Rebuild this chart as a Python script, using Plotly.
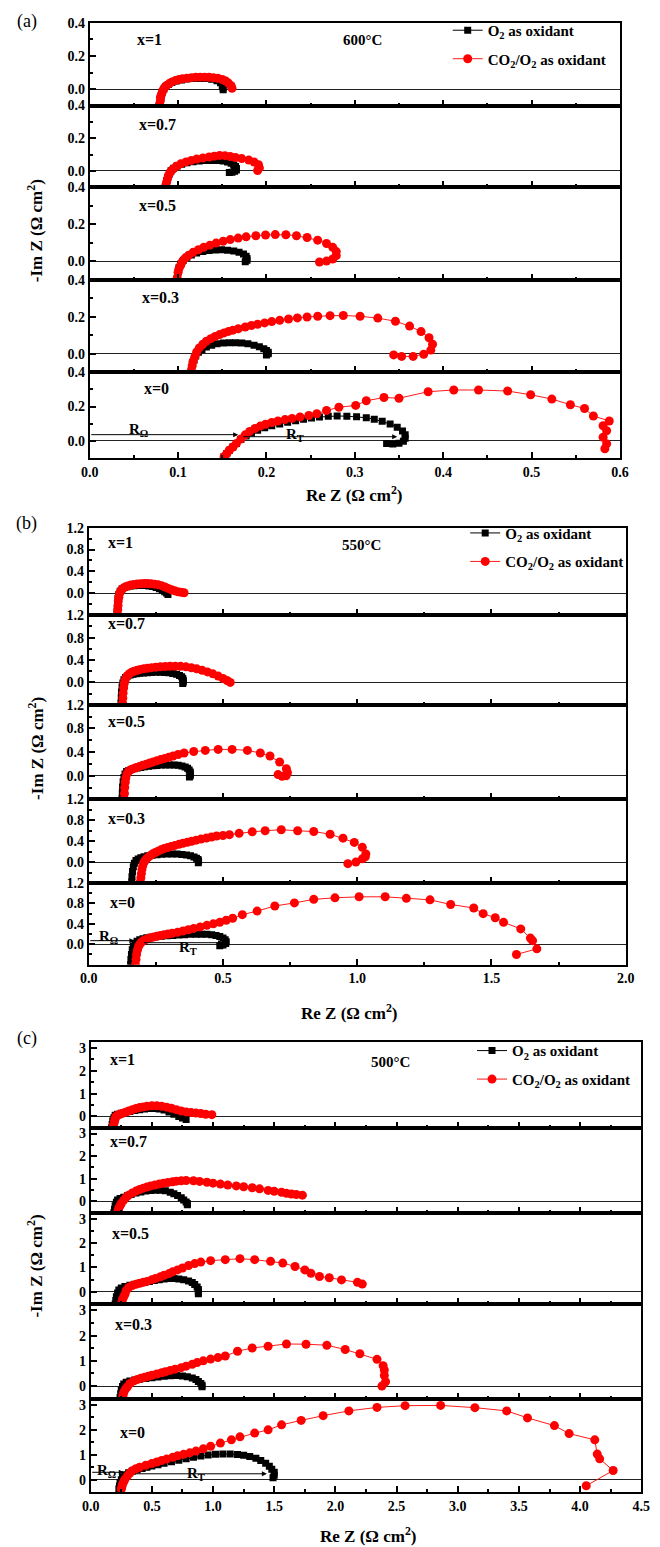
import plotly.graph_objects as go

# ---------------- DATA ----------------
# Panel (a) 600 C
A1_O2_RE = [0.079,0.080,0.081,0.082,0.084,0.086,0.089,0.093,0.098,0.104,0.110,0.117,0.124,0.131,0.138,0.144,0.148,0.150,0.151,0.151]
A1_O2_IM = [-0.09,-0.06,-0.04,-0.02,0.0,0.015,0.028,0.039,0.048,0.055,0.060,0.063,0.064,0.063,0.059,0.050,0.038,0.022,0.008,-0.005]
A1_CO2_RE = [0.079,0.080,0.080,0.081,0.082,0.083,0.085,0.087,0.090,0.093,0.097,0.101,0.105,0.110,0.115,0.120,0.125,0.130,0.135,0.140,0.145,0.150,0.154,0.157,0.160,0.161]
A1_CO2_IM = [-0.09,-0.07,-0.05,-0.035,-0.02,-0.005,0.01,0.022,0.033,0.043,0.051,0.057,0.062,0.066,0.069,0.071,0.072,0.072,0.071,0.069,0.065,0.058,0.048,0.036,0.020,0.005]

A2_O2_RE = [0.086,0.087,0.088,0.090,0.092,0.095,0.099,0.104,0.110,0.117,0.124,0.131,0.138,0.145,0.151,0.156,0.160,0.163,0.165,0.166,0.166,0.164,0.161,0.158]
A2_O2_IM = [-0.09,-0.06,-0.04,-0.02,0.0,0.016,0.029,0.040,0.049,0.056,0.060,0.063,0.064,0.063,0.060,0.054,0.046,0.036,0.026,0.015,0.005,-0.003,-0.008,-0.01]
A2_CO2_RE = [0.086,0.087,0.088,0.089,0.091,0.094,0.098,0.103,0.109,0.115,0.121,0.128,0.135,0.141,0.147,0.153,0.159,0.165,0.172,0.180,0.186,0.191,0.192,0.190]
A2_CO2_IM = [-0.09,-0.07,-0.05,-0.03,-0.01,0.01,0.028,0.043,0.055,0.064,0.072,0.079,0.085,0.090,0.094,0.093,0.088,0.082,0.075,0.066,0.054,0.038,0.018,0.002]

A3_O2_RE = [0.099,0.100,0.101,0.103,0.106,0.110,0.115,0.121,0.128,0.135,0.142,0.149,0.156,0.163,0.169,0.174,0.177,0.178,0.178,0.176]
A3_O2_IM = [-0.09,-0.06,-0.035,-0.015,0.005,0.021,0.034,0.044,0.052,0.058,0.061,0.062,0.060,0.056,0.049,0.039,0.027,0.015,0.005,-0.003]
A3_CO2_RE = [0.099,0.100,0.101,0.103,0.105,0.108,0.112,0.117,0.123,0.129,0.136,0.143,0.151,0.159,0.168,0.177,0.188,0.199,0.210,0.222,0.234,0.246,0.258,0.268,0.275,0.279,0.279,0.275,0.268,0.260]
A3_CO2_IM = [-0.09,-0.06,-0.04,-0.02,0.0,0.017,0.033,0.048,0.062,0.075,0.087,0.098,0.108,0.117,0.125,0.132,0.138,0.142,0.144,0.143,0.138,0.128,0.114,0.096,0.075,0.052,0.030,0.012,0.001,-0.004]

A4_O2_RE = [0.115,0.116,0.118,0.120,0.123,0.127,0.132,0.138,0.144,0.151,0.158,0.165,0.172,0.179,0.186,0.192,0.197,0.200,0.202,0.202,0.200]
A4_O2_IM = [-0.09,-0.06,-0.035,-0.012,0.008,0.024,0.037,0.047,0.054,0.058,0.060,0.060,0.058,0.054,0.047,0.038,0.028,0.018,0.009,0.0,-0.006]
A4_CO2_RE = [0.115,0.116,0.117,0.119,0.121,0.124,0.128,0.132,0.137,0.142,0.147,0.152,0.157,0.162,0.168,0.176,0.183,0.190,0.198,0.206,0.215,0.225,0.235,0.246,0.258,0.272,0.287,0.306,0.326,0.346,0.362,0.375,0.384,0.388,0.386,0.378,0.366,0.353,0.344]
A4_CO2_IM = [-0.09,-0.065,-0.04,-0.015,0.01,0.032,0.052,0.068,0.082,0.094,0.104,0.113,0.121,0.128,0.135,0.145,0.153,0.160,0.167,0.174,0.181,0.188,0.194,0.199,0.203,0.206,0.207,0.203,0.193,0.176,0.150,0.120,0.087,0.052,0.020,-0.002,-0.014,-0.014,-0.006]

A5_O2_RE = [0.152,0.155,0.158,0.162,0.166,0.171,0.177,0.183,0.190,0.198,0.206,0.215,0.224,0.233,0.242,0.251,0.260,0.270,0.280,0.291,0.302,0.313,0.322,0.331,0.340,0.348,0.354,0.357,0.357,0.355,0.350,0.343,0.336]
A5_O2_IM = [-0.093,-0.075,-0.055,-0.036,-0.015,0.008,0.028,0.046,0.062,0.076,0.088,0.099,0.109,0.118,0.126,0.133,0.139,0.143,0.145,0.144,0.141,0.135,0.126,0.114,0.098,0.080,0.058,0.036,0.015,-0.002,-0.014,-0.018,-0.016]
A5_CO2_RE = [0.152,0.155,0.158,0.162,0.166,0.171,0.176,0.181,0.187,0.193,0.199,0.206,0.213,0.221,0.229,0.238,0.248,0.257,0.268,0.282,0.301,0.313,0.333,0.350,0.383,0.412,0.440,0.473,0.499,0.523,0.544,0.560,0.570,0.588,0.581,0.585,0.581,0.585,0.583]
A5_CO2_IM = [-0.093,-0.075,-0.055,-0.036,-0.015,0.011,0.035,0.055,0.072,0.086,0.097,0.107,0.116,0.124,0.131,0.139,0.148,0.158,0.177,0.196,0.207,0.234,0.253,0.249,0.287,0.297,0.297,0.291,0.269,0.244,0.211,0.189,0.145,0.116,0.088,0.059,0.021,-0.017,-0.046]

# Panel (b) 550 C
B1_O2_RE = [0.105,0.106,0.107,0.109,0.112,0.117,0.124,0.133,0.143,0.155,0.168,0.182,0.196,0.210,0.224,0.238,0.251,0.263,0.274,0.283,0.290,0.295]
B1_O2_IM = [-0.38,-0.28,-0.18,-0.09,-0.02,0.04,0.08,0.105,0.122,0.133,0.14,0.144,0.145,0.142,0.135,0.123,0.105,0.082,0.055,0.03,0.005,-0.02]
B1_CO2_RE = [0.107,0.108,0.109,0.110,0.112,0.115,0.120,0.127,0.135,0.145,0.156,0.168,0.180,0.193,0.206,0.219,0.232,0.245,0.258,0.271,0.284,0.296,0.308,0.320,0.332,0.344,0.355]
B1_CO2_IM = [-0.38,-0.3,-0.22,-0.14,-0.07,0.0,0.05,0.09,0.115,0.135,0.15,0.162,0.17,0.176,0.178,0.178,0.175,0.168,0.158,0.14,0.115,0.09,0.065,0.045,0.03,0.02,0.01]

B2_O2_RE = [0.120,0.121,0.122,0.124,0.127,0.131,0.137,0.145,0.154,0.165,0.177,0.190,0.204,0.219,0.234,0.250,0.266,0.282,0.298,0.313,0.327,0.338,0.346,0.350,0.352,0.352,0.350]
B2_O2_IM = [-0.37,-0.27,-0.17,-0.08,-0.01,0.05,0.09,0.115,0.133,0.146,0.156,0.164,0.17,0.175,0.178,0.18,0.18,0.177,0.171,0.161,0.146,0.125,0.1,0.07,0.04,0.01,-0.02]
B2_CO2_RE = [0.126,0.127,0.128,0.130,0.132,0.136,0.142,0.150,0.159,0.169,0.180,0.192,0.205,0.219,0.234,0.250,0.267,0.285,0.303,0.322,0.342,0.362,0.382,0.402,0.422,0.442,0.462,0.482,0.500,0.515,0.527]
B2_CO2_IM = [-0.37,-0.28,-0.19,-0.1,-0.02,0.05,0.11,0.15,0.18,0.2,0.218,0.233,0.245,0.255,0.264,0.272,0.279,0.285,0.289,0.29,0.287,0.278,0.263,0.243,0.218,0.188,0.153,0.113,0.072,0.035,0.0]

B3_O2_RE = [0.124,0.125,0.126,0.128,0.131,0.135,0.141,0.149,0.158,0.169,0.181,0.194,0.208,0.223,0.238,0.254,0.270,0.286,0.302,0.318,0.333,0.347,0.359,0.368,0.374,0.378,0.379,0.378,0.375]
B3_O2_IM = [-0.39,-0.29,-0.19,-0.1,-0.03,0.03,0.07,0.09,0.105,0.118,0.13,0.141,0.151,0.16,0.168,0.175,0.18,0.183,0.184,0.182,0.176,0.165,0.148,0.125,0.097,0.065,0.03,0.0,-0.02]
B3_CO2_RE = [0.132,0.133,0.134,0.136,0.138,0.142,0.148,0.156,0.166,0.177,0.189,0.201,0.214,0.227,0.240,0.254,0.268,0.283,0.298,0.314,0.333,0.355,0.391,0.434,0.482,0.534,0.591,0.639,0.675,0.711,0.736,0.740,0.735,0.720,0.705]
B3_CO2_IM = [-0.39,-0.3,-0.2,-0.11,-0.04,0.03,0.075,0.1,0.12,0.14,0.158,0.177,0.196,0.215,0.234,0.254,0.274,0.294,0.314,0.334,0.36,0.385,0.41,0.429,0.446,0.446,0.429,0.385,0.334,0.232,0.12,0.05,0.0,-0.01,0.02]

B4_O2_RE = [0.160,0.161,0.163,0.166,0.170,0.176,0.184,0.194,0.206,0.220,0.236,0.254,0.272,0.291,0.310,0.329,0.347,0.364,0.379,0.392,0.401,0.407,0.409,0.408]
B4_O2_IM = [-0.38,-0.28,-0.18,-0.09,-0.02,0.03,0.06,0.085,0.105,0.12,0.133,0.143,0.15,0.154,0.155,0.153,0.147,0.137,0.121,0.1,0.075,0.048,0.02,-0.01]
B4_CO2_RE = [0.192,0.194,0.196,0.198,0.201,0.205,0.210,0.216,0.223,0.231,0.239,0.248,0.258,0.269,0.281,0.294,0.307,0.321,0.336,0.351,0.367,0.383,0.400,0.418,0.438,0.457,0.476,0.500,0.524,0.560,0.609,0.657,0.717,0.778,0.838,0.899,0.947,0.989,1.019,1.032,1.030,1.019,0.995,0.965]
B4_CO2_IM = [-0.38,-0.3,-0.22,-0.14,-0.07,-0.01,0.03,0.07,0.1,0.13,0.16,0.185,0.21,0.235,0.26,0.28,0.3,0.32,0.34,0.36,0.38,0.4,0.42,0.44,0.46,0.48,0.5,0.51,0.525,0.55,0.58,0.6,0.62,0.6,0.585,0.534,0.458,0.377,0.283,0.157,0.1,0.063,0.0,-0.03]

B5_O2_RE = [0.156,0.157,0.159,0.162,0.166,0.172,0.180,0.190,0.202,0.216,0.232,0.250,0.270,0.291,0.313,0.335,0.357,0.379,0.400,0.420,0.440,0.458,0.474,0.488,0.500,0.508,0.512,0.510,0.500,0.488]
B5_O2_IM = [-0.4,-0.3,-0.2,-0.11,-0.04,0.02,0.06,0.09,0.11,0.125,0.138,0.148,0.157,0.165,0.172,0.18,0.188,0.195,0.198,0.198,0.194,0.185,0.17,0.15,0.122,0.09,0.05,0.015,-0.015,-0.03]
B5_CO2_RE = [0.174,0.176,0.178,0.181,0.185,0.190,0.196,0.203,0.211,0.220,0.230,0.241,0.253,0.266,0.280,0.295,0.311,0.331,0.351,0.371,0.391,0.415,0.440,0.464,0.488,0.512,0.536,0.572,0.627,0.693,0.766,0.838,0.917,1.007,1.104,1.183,1.271,1.348,1.434,1.469,1.514,1.545,1.609,1.645,1.653,1.669,1.593]
B5_CO2_IM = [-0.4,-0.3,-0.2,-0.12,-0.05,0.0,0.04,0.07,0.09,0.11,0.125,0.14,0.155,0.17,0.185,0.2,0.215,0.235,0.26,0.285,0.31,0.34,0.37,0.40,0.43,0.47,0.51,0.58,0.65,0.75,0.81,0.88,0.91,0.93,0.93,0.90,0.87,0.78,0.71,0.60,0.52,0.43,0.30,0.12,0.07,-0.09,-0.2]

# Panel (c) 500 C
C1_O2_RE = [0.17,0.175,0.18,0.19,0.20,0.22,0.25,0.28,0.32,0.36,0.40,0.44,0.48,0.52,0.56,0.60,0.64,0.68,0.72,0.75,0.78]
C1_O2_IM = [-0.5,-0.35,-0.2,-0.05,0.05,0.1,0.14,0.18,0.22,0.26,0.3,0.33,0.35,0.35,0.33,0.28,0.2,0.1,0.0,-0.07,-0.13]
C1_CO2_RE = [0.18,0.185,0.19,0.195,0.20,0.207,0.22,0.24,0.26,0.285,0.31,0.34,0.37,0.40,0.43,0.46,0.50,0.54,0.58,0.62,0.66,0.70,0.74,0.78,0.82,0.86,0.90,0.94,0.99]
C1_CO2_IM = [-0.5,-0.4,-0.3,-0.2,-0.1,0.0,0.06,0.1,0.14,0.19,0.24,0.3,0.35,0.39,0.42,0.45,0.47,0.47,0.45,0.41,0.36,0.3,0.24,0.2,0.17,0.15,0.13,0.1,0.08]

C2_O2_RE = [0.19,0.195,0.20,0.21,0.22,0.24,0.27,0.30,0.33,0.37,0.41,0.45,0.49,0.53,0.57,0.61,0.65,0.68,0.71,0.74,0.76,0.78,0.79,0.79]
C2_O2_IM = [-0.5,-0.35,-0.2,-0.05,0.05,0.12,0.18,0.24,0.3,0.36,0.41,0.45,0.48,0.49,0.49,0.46,0.4,0.33,0.25,0.15,0.05,-0.03,-0.1,-0.15]
C2_CO2_RE = [0.22,0.225,0.23,0.24,0.25,0.27,0.29,0.31,0.34,0.37,0.40,0.43,0.46,0.49,0.525,0.56,0.595,0.63,0.67,0.70,0.74,0.78,0.84,0.89,0.95,1.00,1.06,1.12,1.19,1.25,1.32,1.38,1.45,1.50,1.56,1.60,1.64,1.68,1.73]
C2_CO2_IM = [-0.5,-0.4,-0.3,-0.2,-0.1,0.05,0.18,0.27,0.37,0.45,0.52,0.58,0.63,0.68,0.72,0.76,0.8,0.83,0.86,0.89,0.91,0.92,0.91,0.88,0.84,0.8,0.76,0.72,0.68,0.64,0.6,0.55,0.48,0.44,0.4,0.35,0.32,0.3,0.27]

C3_O2_RE = [0.20,0.205,0.21,0.22,0.23,0.25,0.28,0.32,0.36,0.40,0.44,0.48,0.52,0.56,0.60,0.64,0.68,0.72,0.76,0.80,0.83,0.85,0.87,0.88,0.88,0.88]
C3_O2_IM = [-0.5,-0.35,-0.2,-0.05,0.08,0.16,0.22,0.27,0.31,0.35,0.39,0.43,0.47,0.5,0.53,0.55,0.55,0.53,0.5,0.45,0.38,0.3,0.2,0.1,0.0,-0.08]
C3_CO2_RE = [0.25,0.255,0.26,0.27,0.28,0.29,0.31,0.34,0.37,0.40,0.43,0.46,0.50,0.53,0.57,0.60,0.64,0.67,0.71,0.75,0.80,0.85,0.90,0.98,1.10,1.22,1.34,1.47,1.57,1.67,1.75,1.80,1.87,1.95,2.05,2.18,2.22]
C3_CO2_IM = [-0.5,-0.4,-0.3,-0.2,-0.1,0.05,0.18,0.26,0.31,0.35,0.39,0.43,0.5,0.55,0.62,0.68,0.75,0.82,0.9,0.98,1.08,1.16,1.22,1.28,1.32,1.36,1.32,1.25,1.18,1.04,0.9,0.76,0.63,0.58,0.49,0.39,0.32]

C4_O2_RE = [0.24,0.245,0.25,0.26,0.27,0.29,0.32,0.36,0.40,0.45,0.50,0.55,0.60,0.65,0.70,0.75,0.79,0.83,0.86,0.88,0.90,0.91,0.91]
C4_O2_IM = [-0.45,-0.3,-0.15,-0.02,0.08,0.15,0.2,0.24,0.27,0.3,0.33,0.36,0.39,0.41,0.42,0.4,0.37,0.32,0.26,0.18,0.1,0.03,-0.03]
C4_CO2_RE = [0.26,0.265,0.27,0.28,0.29,0.30,0.32,0.35,0.38,0.41,0.44,0.47,0.50,0.54,0.58,0.61,0.65,0.69,0.74,0.78,0.83,0.87,0.92,0.98,1.04,1.10,1.20,1.32,1.45,1.60,1.76,1.93,2.08,2.20,2.34,2.39,2.40,2.40,2.41,2.38]
C4_CO2_IM = [-0.45,-0.35,-0.25,-0.15,-0.08,-0.03,0.1,0.2,0.26,0.31,0.35,0.39,0.43,0.48,0.53,0.57,0.62,0.67,0.73,0.79,0.86,0.93,1.0,1.07,1.13,1.19,1.38,1.51,1.58,1.67,1.66,1.62,1.45,1.28,1.06,0.81,0.64,0.42,0.17,0.0]

C5_O2_RE = [0.23,0.235,0.24,0.25,0.26,0.28,0.31,0.34,0.38,0.42,0.46,0.50,0.55,0.60,0.66,0.72,0.78,0.84,0.90,0.96,1.02,1.08,1.14,1.20,1.25,1.30,1.35,1.39,1.43,1.46,1.48,1.50,1.50,1.49]
C5_O2_IM = [-0.37,-0.25,-0.12,0.0,0.1,0.2,0.28,0.34,0.4,0.45,0.5,0.55,0.6,0.66,0.72,0.78,0.84,0.9,0.95,0.99,1.02,1.03,1.03,1.01,0.98,0.93,0.86,0.77,0.66,0.54,0.42,0.3,0.18,0.08]
C5_CO2_RE = [0.25,0.255,0.26,0.27,0.28,0.30,0.32,0.34,0.37,0.40,0.45,0.50,0.54,0.58,0.62,0.67,0.71,0.76,0.81,0.86,0.92,0.98,1.06,1.15,1.22,1.34,1.45,1.56,1.72,1.90,2.11,2.34,2.57,2.86,3.14,3.40,3.57,3.79,3.91,4.12,4.14,4.16,4.27,4.05]
C5_CO2_IM = [-0.38,-0.28,-0.18,-0.08,0.02,0.15,0.27,0.36,0.44,0.5,0.58,0.65,0.71,0.77,0.83,0.9,0.96,1.02,1.08,1.15,1.24,1.34,1.47,1.6,1.72,1.87,2.0,2.2,2.38,2.57,2.76,2.9,2.97,2.98,2.89,2.76,2.48,2.17,1.85,1.6,1.03,0.84,0.37,-0.24]

ROW_LABELS = ["x=1", "x=0.7", "x=0.5", "x=0.3", "x=0"]
TEMPS = ["600°C", "550°C", "500°C"]
PANEL_LABELS = ["(a)", "(b)", "(c)"]
NAME_O2 = "O<sub>2</sub> as oxidant"
NAME_CO2 = "CO<sub>2</sub>/O<sub>2</sub> as oxidant"
YTICKS_A = [0.0, 0.2, 0.4]
YTICKS_B = [0.0, 0.4, 0.8, 1.2]
YTICKS_C = [0, 1, 2, 3]

SERIES = [
    [(A1_O2_RE, A1_O2_IM, A1_CO2_RE, A1_CO2_IM), (A2_O2_RE, A2_O2_IM, A2_CO2_RE, A2_CO2_IM),
     (A3_O2_RE, A3_O2_IM, A3_CO2_RE, A3_CO2_IM), (A4_O2_RE, A4_O2_IM, A4_CO2_RE, A4_CO2_IM),
     (A5_O2_RE, A5_O2_IM, A5_CO2_RE, A5_CO2_IM)],
    [(B1_O2_RE, B1_O2_IM, B1_CO2_RE, B1_CO2_IM), (B2_O2_RE, B2_O2_IM, B2_CO2_RE, B2_CO2_IM),
     (B3_O2_RE, B3_O2_IM, B3_CO2_RE, B3_CO2_IM), (B4_O2_RE, B4_O2_IM, B4_CO2_RE, B4_CO2_IM),
     (B5_O2_RE, B5_O2_IM, B5_CO2_RE, B5_CO2_IM)],
    [(C1_O2_RE, C1_O2_IM, C1_CO2_RE, C1_CO2_IM), (C2_O2_RE, C2_O2_IM, C2_CO2_RE, C2_CO2_IM),
     (C3_O2_RE, C3_O2_IM, C3_CO2_RE, C3_CO2_IM), (C4_O2_RE, C4_O2_IM, C4_CO2_RE, C4_CO2_IM),
     (C5_O2_RE, C5_O2_IM, C5_CO2_RE, C5_CO2_IM)],
]

# ---------------- LAYOUT GEOMETRY (pixels) ----------------
W, H = 660, 1547
def px(x): return x / W
def py(y): return 1 - y / H

FONT = "Liberation Serif"
PANELS = [
    dict(xdom=(83, 628), ydoms=[(16, 99), (99, 181), (181, 274), (274, 367), (367, 453)],
         xrange=[0, 0.6], xdtick=0.1, xminor=0.05, yrange=[-0.1, 0.4001], yticks=YTICKS_A, yminor=0.1,
         yfmt=".1f", msq=7, mci=9,
         rowlab=[(130, 33), (132, 118), (132, 199), (135, 292), (137, 383)],
         temp=(363, 33), leg=(451, 7), ytitle=(27, 225), xtitle=(355, 489), plab=(18, 15),
         arrows=[(0.0, 0.168, 0.036), (0.172, 0.348, 0.024)],
         rlabels=[(0.055, 0.065, "R<sub>Ω</sub>"), (0.232, 0.035, "R<sub>T</sub>")]),
    dict(xdom=(82, 634), ydoms=[(523, 611), (611, 701), (701, 796), (796, 880), (880, 962)],
         xrange=[0, 2.0], xdtick=0.5, xminor=0.25, yrange=[-0.4, 1.2001], yticks=YTICKS_B, yminor=0.2,
         yfmt=".1f", msq=7, mci=9,
         rowlab=[(100, 538), (100, 619), (100, 718), (100, 815), (102, 900)],
         temp=(362, 540), leg=(469, 512), ytitle=(27, 745), xtitle=(350, 1010), plab=(18, 519),
         arrows=[(0.0, 0.17, 0.07), (0.2, 0.5, 0.03)],
         rlabels=[(0.075, 0.15, "R<sub>Ω</sub>"), (0.37, -0.08, "R<sub>T</sub>")]),
    dict(xdom=(84, 650), ydoms=[(1040, 1126), (1126, 1211), (1211, 1303), (1303, 1398), (1398, 1492)],
         xrange=[0, 4.5], xdtick=0.5, xminor=0.25, yrange=[-0.5, 3.25], yticks=YTICKS_C, yminor=0.5,
         yfmt="d", msq=7, mci=9,
         rowlab=[(102, 1057), (102, 1140), (104, 1232), (107, 1323), (112, 1432)],
         temp=(392, 1060), leg=(476, 1032), ytitle=(27, 1265), xtitle=(370, 1535), plab=(18, 1036),
         arrows=[(0.0, 0.27, 0.3), (0.35, 1.44, 0.24)],
         rlabels=[(0.13, 0.36, "R<sub>Ω</sub>"), (0.86, 0.22, "R<sub>T</sub>")]),
]

fig = go.Figure()
layout = dict(width=W, height=H, margin=dict(l=0, r=0, t=0, b=0),
              paper_bgcolor="white", plot_bgcolor="white", showlegend=True,
              font=dict(family=FONT, color="black"))
annotations = []
tickfont = dict(family=FONT, size=14, color="black", weight="bold")

k = 0
for p_i, P in enumerate(PANELS):
    legname = "legend" if p_i == 0 else f"legend{p_i + 1}"
    for r in range(5):
        k += 1
        xa = "x" if k == 1 else f"x{k}"
        ya = "y" if k == 1 else f"y{k}"
        o2re, o2im, co2re, co2im = SERIES[p_i][r]
        first = (r == 0)
        fig.add_trace(go.Scatter(
            x=o2re, y=o2im, xaxis=xa, yaxis=ya, mode="lines+markers", name=NAME_O2,
            line=dict(color="black", width=1),
            marker=dict(symbol="square", size=P["msq"], color="black"),
            showlegend=first, legend=legname, legendgroup=f"o2_{p_i}"))
        fig.add_trace(go.Scatter(
            x=co2re, y=co2im, xaxis=xa, yaxis=ya, mode="lines+markers", name=NAME_CO2,
            line=dict(color="#ff1a1a", width=1),
            marker=dict(symbol="circle", size=P["mci"], color="#ff0000"),
            showlegend=first, legend=legname, legendgroup=f"co2_{p_i}"))
        y0, y1 = P["ydoms"][r]
        layout["xaxis" if k == 1 else f"xaxis{k}"] = dict(
            domain=[px(P["xdom"][0]), px(P["xdom"][1])], anchor=ya, range=P["xrange"],
            tick0=0, dtick=P["xdtick"], tickformat=".1f", ticks="inside", ticklen=6, tickwidth=2,
            tickcolor="black",
            minor=dict(ticks="inside", ticklen=3, dtick=P["xminor"], tick0=0, tickwidth=1.5, tickcolor="black"),
            showline=True, mirror=True, linecolor="black", linewidth=2,
            showgrid=False, zeroline=False, showticklabels=(r == 4), tickfont=tickfont)
        layout["yaxis" if k == 1 else f"yaxis{k}"] = dict(
            domain=[py(y1), py(y0)], anchor=xa, range=P["yrange"],
            tickmode="array", tickvals=P["yticks"], tickformat=P["yfmt"],
            ticks="inside", ticklen=6, tickwidth=2, tickcolor="black",
            minor=dict(ticks="inside", ticklen=3, dtick=P["yminor"], tick0=0, tickwidth=1.5, tickcolor="black"),
            showline=True, mirror=True, linecolor="black", linewidth=2,
            showgrid=False, zeroline=True, zerolinecolor="#222", zerolinewidth=1, tickfont=tickfont)
        lx, ly = P["rowlab"][r]
        annotations.append(dict(xref="paper", yref="paper", x=px(lx), y=py(ly), xanchor="left",
                                yanchor="middle", showarrow=False, text=ROW_LABELS[r],
                                font=dict(family=FONT, size=16, color="black", weight="bold")))
        if r == 4:
            for (xs, xe, yy) in P["arrows"]:
                annotations.append(dict(xref=xa, yref=ya, axref=xa, ayref=ya, x=xe, y=yy, ax=xs, ay=yy,
                                        showarrow=True, arrowhead=2, arrowsize=1, arrowwidth=1,
                                        arrowcolor="black", text=""))
            for (xx, yy, t) in P["rlabels"]:
                annotations.append(dict(xref=xa, yref=ya, x=xx, y=yy, showarrow=False, text=t,
                                        xanchor="center", yanchor="middle",
                                        font=dict(family=FONT, size=15, color="black", weight="bold")))
    tx, ty = P["temp"]
    annotations.append(dict(xref="paper", yref="paper", x=px(tx), y=py(ty), showarrow=False,
                            xanchor="center", yanchor="middle",
                            text=TEMPS[p_i], font=dict(family=FONT, size=15, color="black", weight="bold")))
    lx, ly = P["plab"]
    annotations.append(dict(xref="paper", yref="paper", x=px(lx), y=py(ly), showarrow=False,
                            xanchor="center", yanchor="middle",
                            text=PANEL_LABELS[p_i], font=dict(family=FONT, size=18, color="black")))
    tx, ty = P["ytitle"]
    annotations.append(dict(xref="paper", yref="paper", x=px(tx), y=py(ty), showarrow=False,
                            xanchor="center", yanchor="middle",
                            textangle=-90, text="-Im Z (Ω cm<sup>2</sup>)",
                            font=dict(family=FONT, size=17, color="black", weight="bold")))
    tx, ty = P["xtitle"]
    annotations.append(dict(xref="paper", yref="paper", x=px(tx), y=py(ty), showarrow=False,
                            xanchor="center", yanchor="middle",
                            text="Re Z (Ω cm<sup>2</sup>)",
                            font=dict(family=FONT, size=17, color="black", weight="bold")))
    lgx, lgy = P["leg"]
    layout[legname] = dict(x=px(lgx), y=py(lgy), xanchor="left", yanchor="top",
                           bgcolor="rgba(0,0,0,0)", tracegroupgap=6, itemsizing="trace",
                           font=dict(family=FONT, size=15, color="black", weight="bold"))

layout["annotations"] = annotations
fig.update_layout(**layout)
fig.write_html("out.html", config={"displayModeBar": False},
               post_script="document.body.style.margin='0';document.body.style.overflow='hidden';")
